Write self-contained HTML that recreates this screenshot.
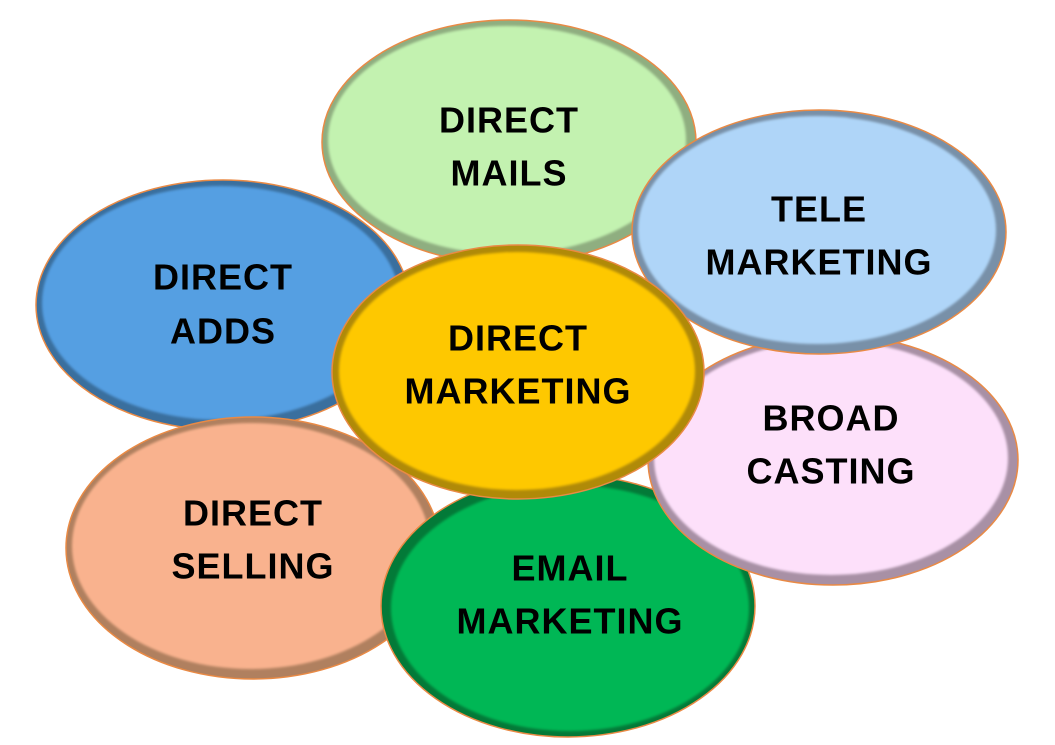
<!DOCTYPE html>
<html><head><meta charset="utf-8"><style>
html,body{margin:0;padding:0;background:#fff;}
svg{display:block;}
text{font-family:"Liberation Sans",Arial,sans-serif;font-weight:bold;font-size:36px;letter-spacing:1px;fill:#000;text-anchor:middle;dominant-baseline:central;}
</style></head><body>
<svg width="1055" height="745" viewBox="0 0 1055 745" xmlns="http://www.w3.org/2000/svg">
<defs>
<filter id="sh" x="-10%" y="-10%" width="120%" height="120%"><feGaussianBlur stdDeviation="1.2"/></filter>
</defs>
<!-- Direct Mails -->
<g>
<ellipse cx="509" cy="142" rx="187" ry="122" fill="#8fae80" stroke="#e98a45" stroke-width="1.5"/>
<ellipse cx="507" cy="140" rx="179" ry="114" fill="#c3f2b0" filter="url(#sh)"/>
<text x="509" y="120">DIRECT</text><text x="509" y="173">MAILS</text>
</g>
<!-- Direct Adds -->
<g>
<ellipse cx="223" cy="305" rx="187" ry="125" fill="#3a6f9e" stroke="#e98a45" stroke-width="1.5"/>
<ellipse cx="221" cy="303" rx="179" ry="117" fill="#559fe2" filter="url(#sh)"/>
<text x="223" y="277">DIRECT</text><text x="223" y="331">ADDS</text>
</g>
<!-- Direct Selling -->
<g>
<ellipse cx="253" cy="548" rx="187" ry="131" fill="#b0805f" stroke="#e98a45" stroke-width="1.5"/>
<ellipse cx="251" cy="546" rx="179" ry="123" fill="#f9b28e" filter="url(#sh)"/>
<text x="253" y="513">DIRECT</text><text x="253" y="566">SELLING</text>
</g>
<!-- Email -->
<g>
<ellipse cx="568" cy="606" rx="187" ry="131" fill="#037a38" stroke="#e98a45" stroke-width="1.5"/>
<ellipse cx="570" cy="608" rx="179" ry="123" fill="#05b754" filter="url(#sh)"/>
<text x="570" y="568">EMAIL</text><text x="570" y="621">MARKETING</text>
</g>
<!-- Broad casting -->
<g>
<ellipse cx="833" cy="460" rx="185" ry="125" fill="#a890a5" stroke="#e98a45" stroke-width="1.5"/>
<ellipse cx="831" cy="458" rx="177" ry="117" fill="#fde0fa" filter="url(#sh)"/>
<text x="831" y="418">BROAD</text><text x="831" y="471">CASTING</text>
</g>
<!-- Tele -->
<g>
<ellipse cx="819" cy="232" rx="187" ry="122" fill="#7890a8" stroke="#e98a45" stroke-width="1.5"/>
<ellipse cx="817" cy="230" rx="179" ry="114" fill="#afd5f8" filter="url(#sh)"/>
<text x="819" y="209">TELE</text><text x="819" y="262">MARKETING</text>
</g>
<!-- Center -->
<g>
<ellipse cx="518" cy="372" rx="186" ry="127" fill="#b08a08" stroke="#e98a45" stroke-width="1.5"/>
<ellipse cx="517" cy="371" rx="178" ry="119" fill="#fec806" filter="url(#sh)"/>
<text x="518" y="338">DIRECT</text><text x="518" y="391">MARKETING</text>
</g>
</svg>
</body></html>
